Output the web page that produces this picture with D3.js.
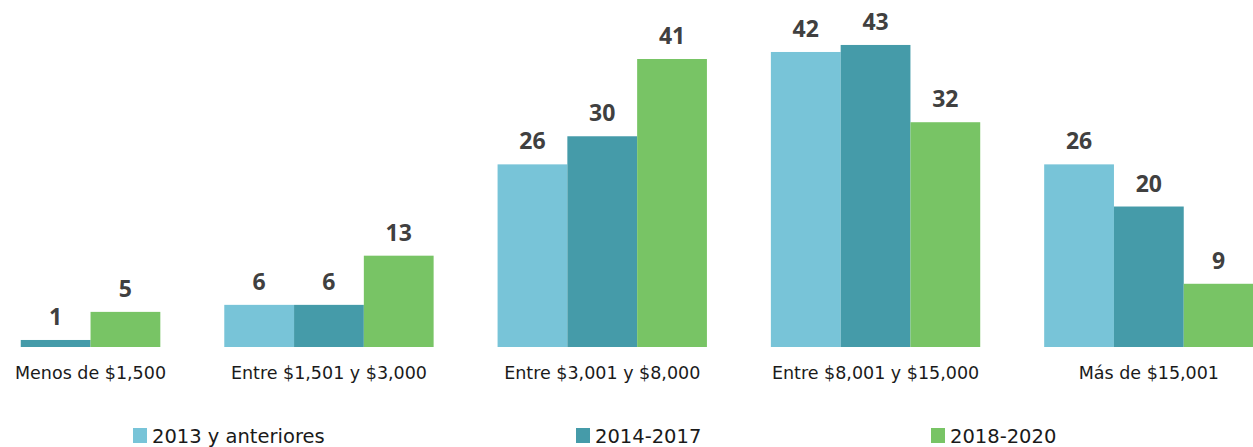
<!DOCTYPE html>
<html>
<head>
<meta charset="utf-8">
<script src="https://cdn.jsdelivr.net/npm/d3@7"></script>
<style>
	html, body { margin: 0; padding: 0; background: #fff; }
	svg { display: block; }
</style>
</head>
<body>
<svg id="chart"></svg>
<script>
	const categories = ["Menos de $1,500", "Entre $1,501 y $3,000", "Entre $3,001 y $8,000", "Entre $8,001 y $15,000", "Más de $15,001"];
	const seriesNames = ["2013 y anteriores", "2014-2017", "2018-2020"];
	const s2013 = [null, 6, 26, 42, 26];
	const s2014 = [1, 6, 30, 43, 20];
	const s2018 = [5, 13, 41, 32, 9];
	const colors = ["#78c4d8", "#459ba9", "#78c465"];

	const w = 1253, h = 447;
	const baseY = 347;

	const svg = d3.select("#chart")
		.attr("width", w)
		.attr("height", h);

	// chart is cropped at both sides, so the band range runs past the canvas
	const x0 = d3.scaleBand()
		.domain(categories)
		.range([-81, 1285.5])
		.paddingInner(0.234)
		.paddingOuter(0.117);

	const x1 = d3.scaleBand()
		.domain(seriesNames)
		.range([0, x0.bandwidth()]);

	const y = d3.scaleLinear()
		.domain([0, 49.4])
		.range([baseY, 0]);

	const allSeries = [s2013, s2014, s2018];
	const rows = [];
	categories.forEach((c, i) => {
		seriesNames.forEach((s, j) => {
			const v = allSeries[j][i];
			if (v !== null) rows.push({ cat: c, series: s, value: v, color: colors[j] });
		});
	});

	svg.append("g")
		.selectAll("rect")
		.data(rows)
		.enter()
		.append("rect")
		.attr("x", d => x0(d.cat) + x1(d.series))
		.attr("y", d => y(d.value))
		.attr("width", x1.bandwidth())
		.attr("height", d => y(0) - y(d.value))
		.attr("fill", d => d.color);

	svg.append("g")
		.selectAll("text")
		.data(rows)
		.enter()
		.append("text")
		.text(d => d.value)
		.attr("x", d => x0(d.cat) + x1(d.series) + x1.bandwidth() / 2)
		.attr("y", d => y(d.value) - 15)
		.attr("text-anchor", "middle")
		.attr("font-family", "'Noto Sans', sans-serif")
		.attr("font-weight", "bold")
		.attr("font-size", "23px")
		.attr("fill", "#404040");

	const catLabels = svg.append("g")
		.selectAll("text")
		.data(categories)
		.enter()
		.append("text")
		.text(d => d)
		.attr("x", d => x0(d) + x0.bandwidth() / 2)
		.attr("y", 379)
		.attr("text-anchor", "middle")
		.attr("font-family", "'DejaVu Sans', sans-serif")
		.attr("font-size", "17.5px")
		.attr("fill", "#1a1a1a");

	// keep labels inside the picture
	catLabels.each(function() {
		const t = d3.select(this);
		const half = this.getComputedTextLength() / 2;
		const cx = +t.attr("x");
		if (cx - half < 15) t.attr("x", 15 + half);
	});

	const legendX = [133, 576, 931];
	const legend = svg.append("g")
		.selectAll("g")
		.data(seriesNames)
		.enter()
		.append("g")
		.attr("transform", (d, i) => `translate(${legendX[i]},428)`);

	legend.append("rect")
		.attr("width", 14)
		.attr("height", 15)
		.attr("fill", (d, i) => colors[i]);

	legend.append("text")
		.text(d => d)
		.attr("x", 19)
		.attr("y", 15)
		.attr("font-family", "'DejaVu Sans', sans-serif")
		.attr("font-size", "19.5px")
		.attr("fill", "#1a1a1a");
</script>
</body>
</html>
